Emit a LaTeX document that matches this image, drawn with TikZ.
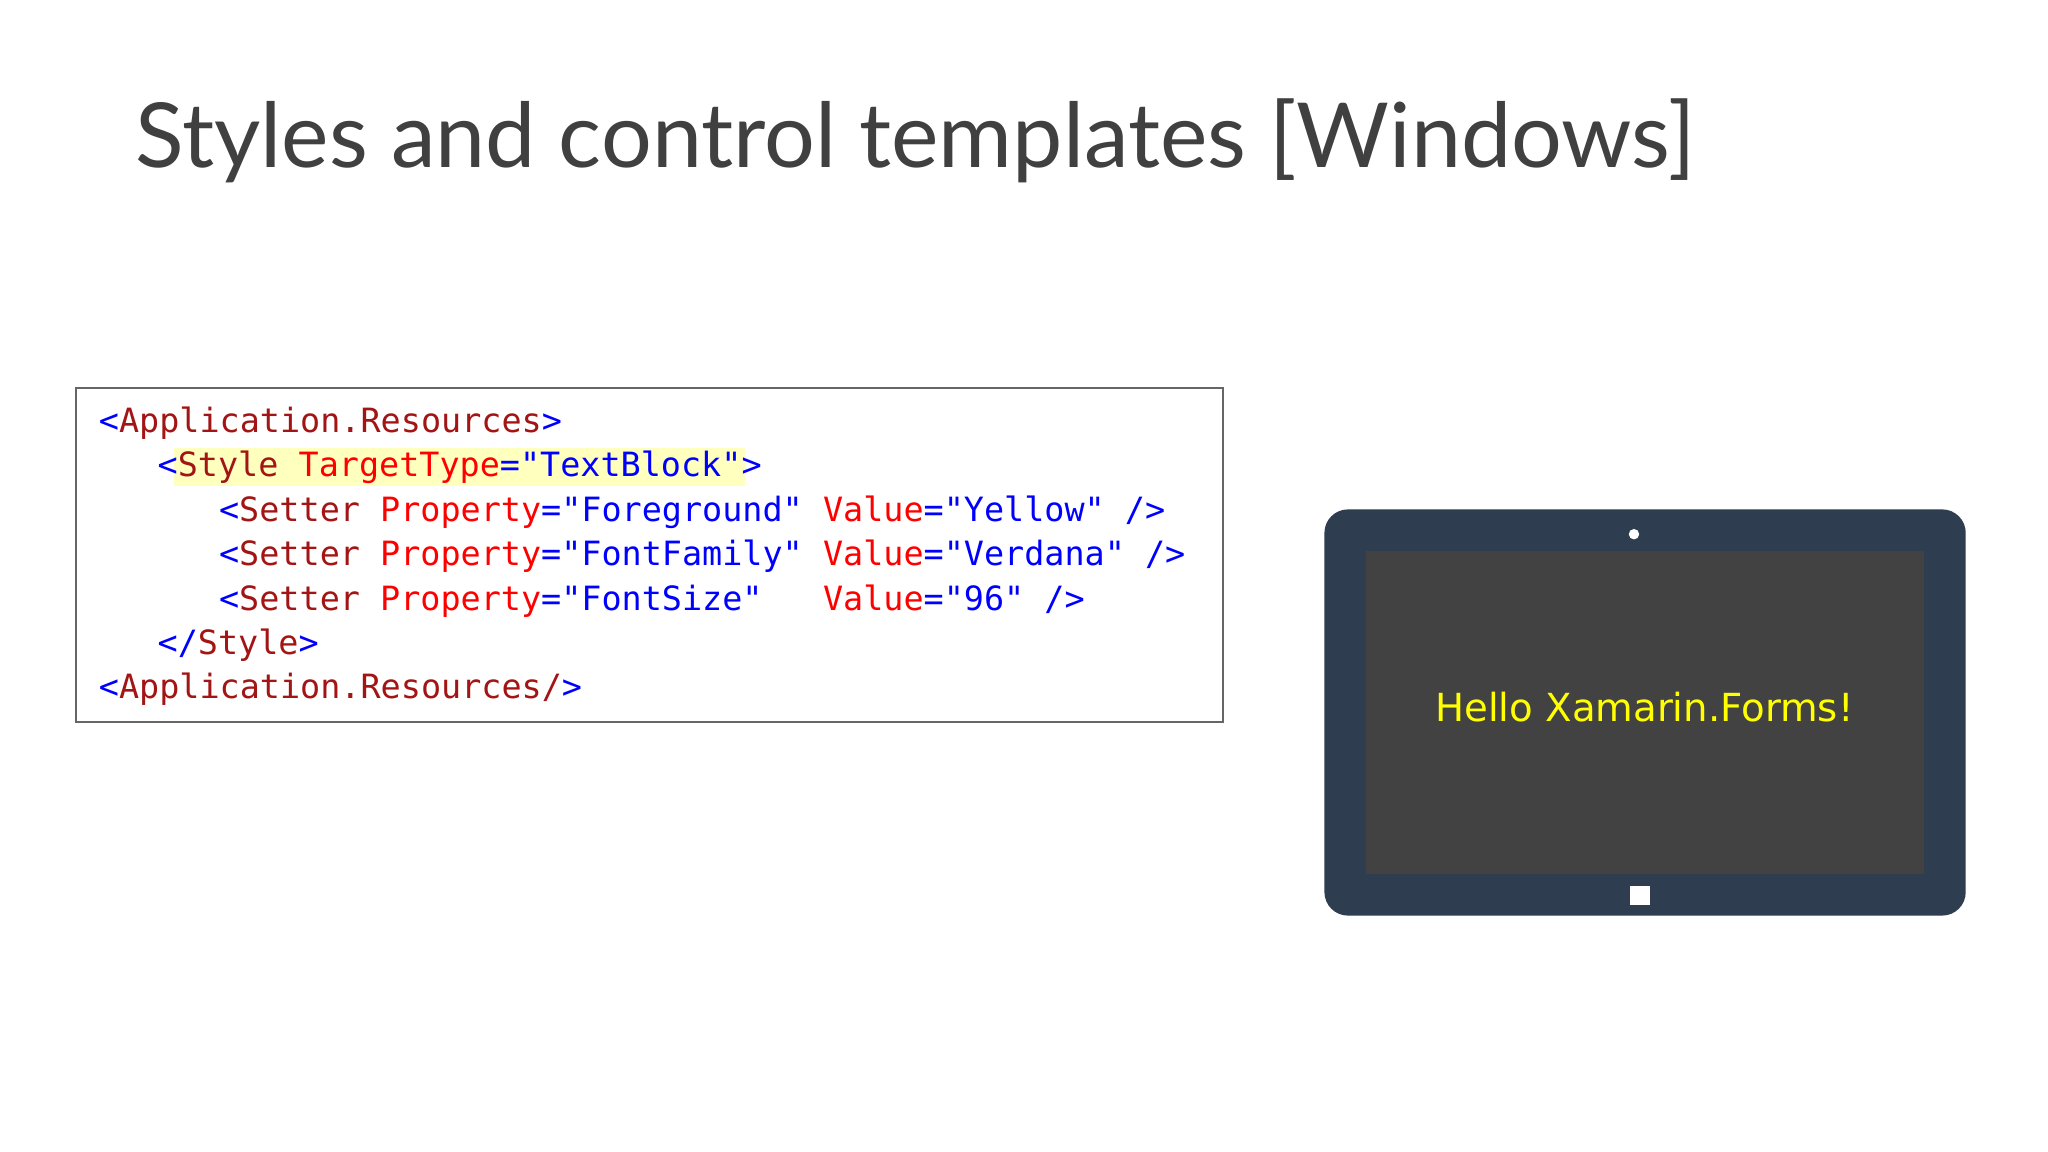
\documentclass[tikz,border=0pt]{standalone}
\usepackage{fontspec}
\setmainfont{Open Sans}
\setmonofont{DejaVu Sans Mono}
\newfontfamily\titlefont{Lato}
\newfontfamily\verdanafont{DejaVu Sans}
\definecolor{xblue}{RGB}{0,0,255}
\definecolor{xdred}{RGB}{163,21,21}
\definecolor{xred}{RGB}{255,0,0}
\definecolor{tabframe}{RGB}{46,61,79}
\definecolor{tabscreen}{RGB}{66,66,66}
\definecolor{hilite}{RGB}{255,255,190}
\newcommand{\bk}[1]{\textcolor{xblue}{#1}}
\newcommand{\el}[1]{\textcolor{xdred}{#1}}
\newcommand{\at}[1]{\textcolor{xred}{#1}}
\tikzset{every picture/.style={line width=0.75pt}}
\begin{document}
\begin{tikzpicture}[x=0.5pt,y=0.5pt,yscale=-1,xscale=1,
  codeline/.style={anchor=west,inner sep=0pt,font=\ttfamily\fontsize{12.8}{15}\selectfont}]
\useasboundingbox (0,0) rectangle (1568,882);
\fill[white] (0,0) rectangle (1568,882);

% Title
\node (title) [anchor=base west,inner sep=0pt,text=black!75,font=\titlefont\fontsize{44}{50}\selectfont] at (103,128) {\resizebox{597pt}{!}{Styles and control templates [Windows]}};

% Code box
\draw[black!60,fill=white] (58,297) rectangle (936,553);
\fill[hilite] (133,343) rectangle (570,372);
\node (l1) [codeline] at (75,324) {\bk{<}\el{Application.Resources}\bk{>}};
\node (l2) [codeline] at (120,358) {\bk{<}\el{Style} \at{TargetType}\bk{="TextBlock"}\bk{>}};
\node (l3) [codeline] at (167,392) {\bk{<}\el{Setter} \at{Property}\bk{="Foreground"} \at{Value}\bk{="Yellow" />}};
\node (l4) [codeline] at (167,426) {\bk{<}\el{Setter} \at{Property}\bk{="FontFamily"} \at{Value}\bk{="Verdana" />}};
\node (l5) [codeline] at (167,460) {\bk{<}\el{Setter} \at{Property}\bk{="FontSize"}\ \ \ \at{Value}\bk{="96" />}};
\node (l6) [codeline] at (120,494) {\bk{</}\el{Style}\bk{>}};
\node (l7) [codeline] at (75,528) {\bk{<}\el{Application.Resources/}\bk{>}};

% Tablet
\fill[tabframe,rounded corners=9pt] (1014,390) rectangle (1505,701);
\fill[tabscreen] (1046,422) rectangle (1473,669);
\fill[white] (1251,409) circle (4);
\fill[white] (1248,678) rectangle (1263,693);
\node (hello) [text={rgb,255:red,255;green,255;blue,0},font=\verdanafont\fontsize{14.8}{17}\selectfont] at (1259,541) {Hello Xamarin.Forms!};
\end{tikzpicture}
\end{document}
